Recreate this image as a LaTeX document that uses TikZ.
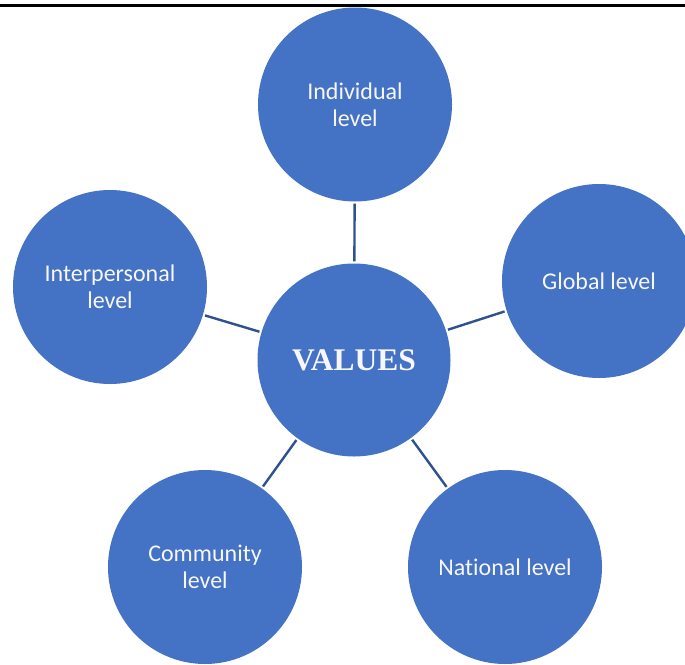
\documentclass[tikz,border=0pt]{standalone}
\usepackage{fontspec}
\setmainfont[Ligatures={NoCommon,NoDiscretionary,NoContextual}]{Carlito}
\newfontfamily\timesfont{Liberation Serif}
\definecolor{bubble}{HTML}{4472C4}
\definecolor{linkcol}{HTML}{2F528F}
\definecolor{labeltext}{HTML}{F7F7F7}
\begin{document}
\begin{tikzpicture}[x=1pt,y=-1pt,
  bubblenode/.style={circle, fill=bubble, draw=none, minimum size=194pt, inner sep=0pt,
    text=labeltext, align=center, font=\fontsize{24}{27}\selectfont},
  linkline/.style={draw=linkcol, line width=2.4pt, shorten <=2pt, shorten >=2pt}]
\useasboundingbox (0,0) rectangle (685,664);
\clip (0,0) rectangle (685,664);
\fill[white] (0,0) rectangle (685,664);
\draw[line width=2.2pt] (0,5.5) -- (685,5.5);
\node[bubblenode, minimum size=193pt] (values) at (354,360) {\timesfont\bfseries\fontsize{31.5}{36}\selectfont VALUES};
\node[bubblenode] (indiv) at (355,104.5) {Individual\\level};
\node[bubblenode] (inter) at (110,287) {Interpersonal\\level};
\node[bubblenode] (global) at (599,281) {Global level};
\node[bubblenode] (commun) at (205,567) {Community\\level};
\node[bubblenode] (nation) at (505,567) {National level};
\draw[linkline] (values) -- (indiv);
\draw[linkline] (values) -- (inter);
\draw[linkline] (values) -- (global);
\draw[linkline] (values) -- (commun);
\draw[linkline] (values) -- (nation);
\end{tikzpicture}
\end{document}
